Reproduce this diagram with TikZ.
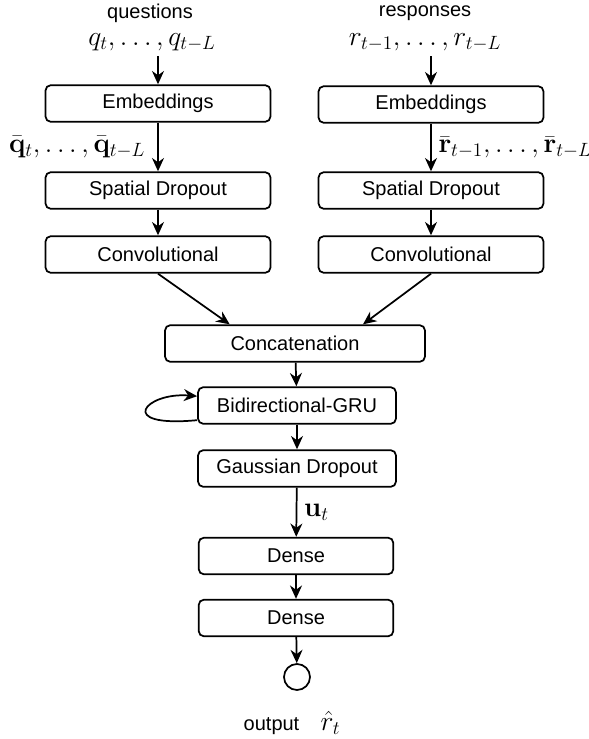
\documentclass[tikz,border=0pt]{standalone}
\usepackage[no-math]{fontspec}
\setmainfont{Liberation Sans}
\usetikzlibrary{arrows.meta}

\begin{document}
\begin{tikzpicture}[x=0.75pt,y=-0.75pt,
  layer/.style={draw,line width=1.3pt,rounded corners=4pt,minimum height=27.5pt,inner sep=0pt,font=\fontsize{15}{18}\selectfont},
  flow/.style={-{Stealth[length=10pt,width=9pt]},line width=1.3pt},
  lbl/.style={font=\fontsize{15}{18}\selectfont},
  mlbl/.style={inner sep=0pt,font=\fontsize{21}{24}\selectfont}]
  \useasboundingbox (0,0) rectangle (589,739);
  % Questions branch
  \node[lbl] (qtext) at (150,13) {questions};
  \node[mlbl] (qseq) at (152,42) {$q_t, \ldots, q_{t-L}$};
  \node[layer,minimum width=168.75pt] (qemb) at (158,103.5) {Embeddings};
  \node[layer,minimum width=168.75pt] (qspd) at (158,190.5) {Spatial Dropout};
  \node[layer,minimum width=168.75pt] (qconv) at (158,254.5) {Convolutional};
  % Responses branch
  \node[lbl] (rtext) at (425,13) {responses};
  \node[mlbl] (rseq) at (425,42) {$r_{t-1}, \ldots, r_{t-L}$};
  \node[layer,minimum width=168.75pt] (remb) at (431,104.5) {Embeddings};
  \node[layer,minimum width=168.75pt] (rspd) at (431,190.5) {Spatial Dropout};
  \node[layer,minimum width=168.75pt] (rconv) at (431,254.5) {Convolutional};
  % Shared part
  \node[layer,minimum width=195pt] (cat) at (295,343.5) {Concatenation};
  \node[layer,minimum width=148.5pt] (gru) at (297,405.5) {Bidirectional-GRU};
  \node[layer,minimum width=148.5pt] (gdo) at (297,468.5) {Gaussian Dropout};
  \node[layer,minimum width=146pt] (dns1) at (296,556) {Dense};
  \node[layer,minimum width=146pt] (dns2) at (296,618) {Dense};
  \node[circle,draw,line width=1.3pt,minimum size=19.5pt,inner sep=0pt] (out) at (297,677) {};
  \node[lbl] (outlbl) at (292,723) {output\hspace{16pt}{\fontsize{20}{23}\selectfont$\hat{r}_t$}};
  % Arrows
  \draw[flow] ([yshift=-4pt]qseq.south -| qemb.north) -- (qemb.north);
  \draw[flow] (qemb) -- node[mlbl,left=9pt] {$\bar{\mathbf{q}}_t, \ldots, \bar{\mathbf{q}}_{t-L}$} (qspd);
  \draw[flow] (qspd) -- (qconv);
  \draw[flow] ([yshift=-4pt]rseq.south -| remb.north) -- (remb.north);
  \draw[flow] (remb) -- node[mlbl,right=5pt] {$\bar{\mathbf{r}}_{t-1}, \ldots, \bar{\mathbf{r}}_{t-L}$} (rspd);
  \draw[flow] (rspd) -- (rconv);
  \draw[flow] (qconv.south) -- ([xshift=-49pt]cat.north);
  \draw[flow] (rconv.south) -- ([xshift=51pt]cat.north);
  \draw[flow] (cat) -- (gru);
  \draw[flow] ([yshift=-11pt]gru.west) .. controls (115,428) and (145,392) .. ([yshift=7pt]gru.west);
  \draw[flow] (gru) -- (gdo);
  \draw[flow] (gdo) -- node[mlbl,right=5pt] {$\mathbf{u}_t$} (dns1);
  \draw[flow] (dns1) -- (dns2);
  \draw[flow] (dns2) -- (out);
\end{tikzpicture}
\end{document}
